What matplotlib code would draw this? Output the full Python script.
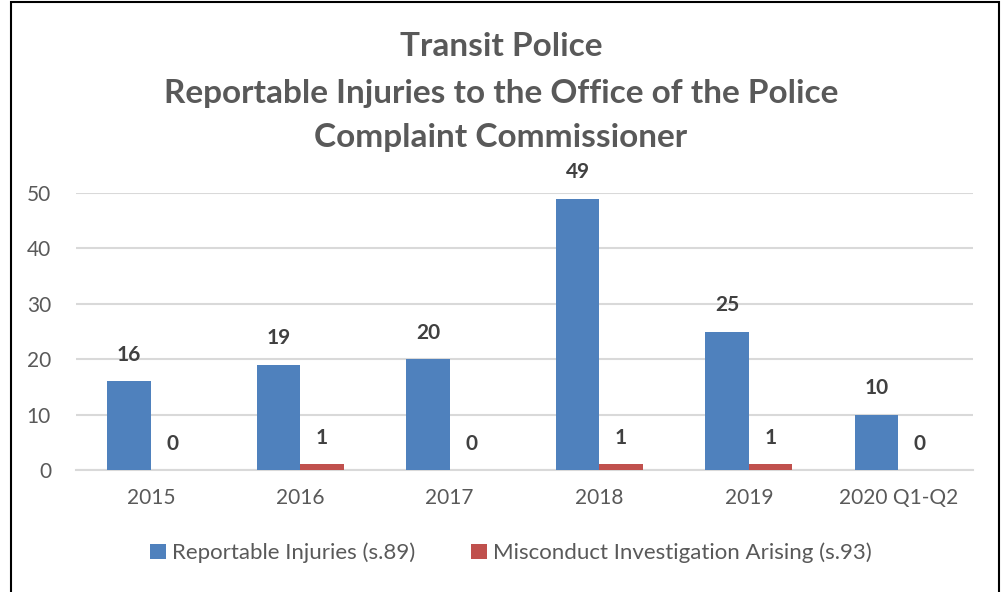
import matplotlib.pyplot as plt
import numpy as np
from matplotlib.patches import Rectangle

plt.rcParams['font.family'] = ['Lato', 'DejaVu Sans']

categories = ['2015', '2016', '2017', '2018', '2019', '2020 Q1-Q2']
injuries = [16, 19, 20, 49, 25, 10]
misconduct = [0, 1, 0, 1, 1, 0]
series_names = ['Reportable Injuries (s.89)', 'Misconduct Investigation Arising (s.93)']

blue = '#4F81BD'
red = '#C0504D'
grey = '#595959'

fig = plt.figure(figsize=(10.02, 5.92), dpi=100)
ax = fig.add_axes([76 / 1002, 1 - 470 / 592, 897 / 1002, 277 / 592])

x = np.arange(len(categories))
width = 0.29
b1 = ax.bar(x - width / 2, injuries, width, color=blue, label=series_names[0], zorder=3)
b2 = ax.bar(x + width / 2, misconduct, width, color=red, label=series_names[1], zorder=3)

# value labels above each bar
for bars, vals in ((b1, injuries), (b2, misconduct)):
    for rect, v in zip(bars, vals):
        ax.annotate(str(v), (rect.get_x() + rect.get_width() / 2, v),
                    xytext=(0, 19), textcoords='offset points',
                    ha='center', va='center', fontsize=15,
                    fontweight='bold', color='#404040')

ax.set_xlim(-0.5, len(categories) - 0.5)
ax.set_ylim(0, 50)
ax.set_yticks([0, 10, 20, 30, 40, 50])
ax.set_xticks(x)
ax.set_xticklabels(categories)
ax.tick_params(axis='both', length=0, labelsize=15, labelcolor=grey)
ax.tick_params(axis='x', pad=13)
ax.tick_params(axis='y', pad=18)
ax.grid(axis='y', color='#D9D9D9', linewidth=1.5, zorder=0)
ax.set_axisbelow(True)
for s in ('top', 'right', 'left'):
    ax.spines[s].set_visible(False)
ax.spines['bottom'].set_color('#D9D9D9')
ax.spines['bottom'].set_linewidth(1.5)

title_lines = ['Transit Police',
               'Reportable Injuries to the Office of the Police',
               'Complaint Commissioner']
for line, ypix in zip(title_lines, (47, 94, 138)):
    fig.text(0.5, 1 - ypix / 592, line, ha='center', va='center',
             fontsize=24, fontweight='bold', color=grey)

fig.legend(loc='center', bbox_to_anchor=(511 / 1002, 1 - 553 / 592), ncol=2,
           frameon=False, fontsize=16, labelcolor=grey, handlelength=0.7,
           handleheight=0.7, handletextpad=0.3, columnspacing=2.5)

fig.patches.append(Rectangle((11 / 1002, -0.05), 988 / 1002, 1.05 - 2 / 592,
                             transform=fig.transFigure, fill=False,
                             edgecolor='black', linewidth=1.5))

fig.savefig('out.png', dpi=100)
